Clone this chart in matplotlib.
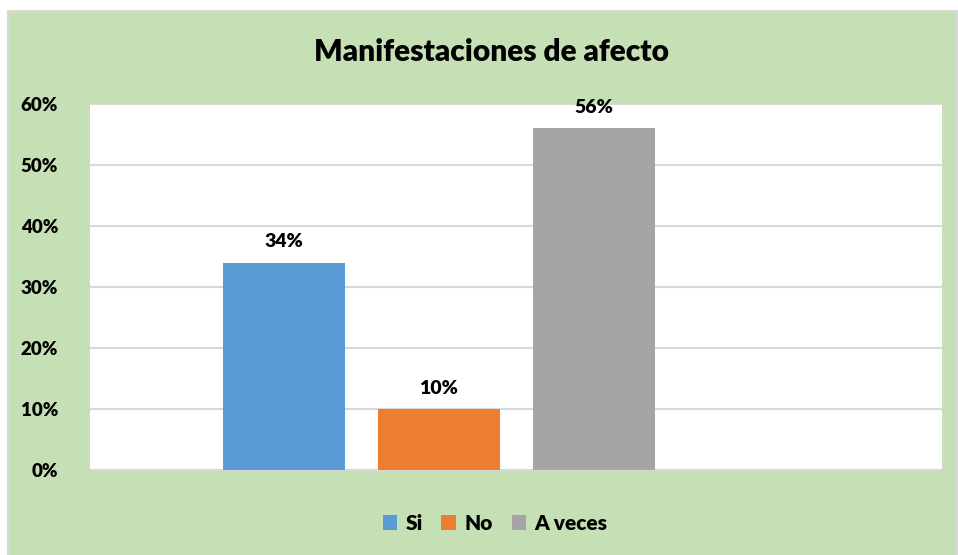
import matplotlib
matplotlib.use("Agg")
import matplotlib.pyplot as plt
from matplotlib.patches import Rectangle, Patch

categories = ["Si", "No", "A veces"]
values = [34, 10, 56]
labels = ["34%", "10%", "56%"]
colors = ["#5B9BD5", "#ED7D31", "#A5A5A5"]
yticks = [0, 10, 20, 30, 40, 50, 60]
ytick_labels = ["0%", "10%", "20%", "30%", "40%", "50%", "60%"]

plt.rcParams['font.family'] = ['Lato', 'DejaVu Sans']
W, H = 958, 555
fig = plt.figure(figsize=(W/100, H/100), dpi=100)
fig.patch.set_facecolor("white")
# green chart area with gray border
fig.patches.append(Rectangle((8/W, -0.01), (957-8)/W, (H-11)/H + 0.01, transform=fig.transFigure,
                             facecolor="#C5E0B4", edgecolor="#D9D9D9", linewidth=1.5, zorder=-10))

ax = fig.add_axes([90/W, (H-470)/H, (942-90)/W, (470-104)/H])
ax.set_zorder(1)
ax.set_facecolor("white")
x = list(range(len(categories)))
bars = ax.bar(x, values, width=0.787, color=colors, zorder=3)
ax.set_xlim(-1.25, 4.245)
ax.set_ylim(0, 60)
ax.set_yticks(yticks)
ax.set_yticklabels(ytick_labels, fontsize=13.5, fontweight="heavy")
ax.tick_params(axis="y", length=0, pad=23)
ax.set_xticks([])
ax.yaxis.grid(True, color="#D9D9D9", linewidth=1.5, zorder=0)
for s in ["top", "right", "left"]:
    ax.spines[s].set_visible(False)
ax.spines["bottom"].set_color("#D9D9D9")
ax.spines["bottom"].set_linewidth(1.5)

for b, lab in zip(bars, labels):
    ax.annotate(lab, (b.get_x() + b.get_width()/2, b.get_height()),
                xytext=(0, 9), textcoords="offset points", ha="center", va="bottom",
                fontsize=14, fontweight="heavy", zorder=5, annotation_clip=False)

fig.text(491/W, 1 - 52/H, "Manifestaciones de afecto", ha="center", va="center",
         fontsize=21.5, fontweight="heavy")

handles = [Patch(facecolor=c, label=l) for c, l in zip(colors, categories)]
fig.legend(handles=handles, loc="center", bbox_to_anchor=(495/W, 1 - 523/H), ncol=3,
           frameon=False, prop={"size": 15, "weight": "heavy"}, handlelength=0.7,
           handleheight=0.7, handletextpad=0.4, columnspacing=0.9)

fig.savefig("out.png", dpi=100, facecolor=fig.get_facecolor())
